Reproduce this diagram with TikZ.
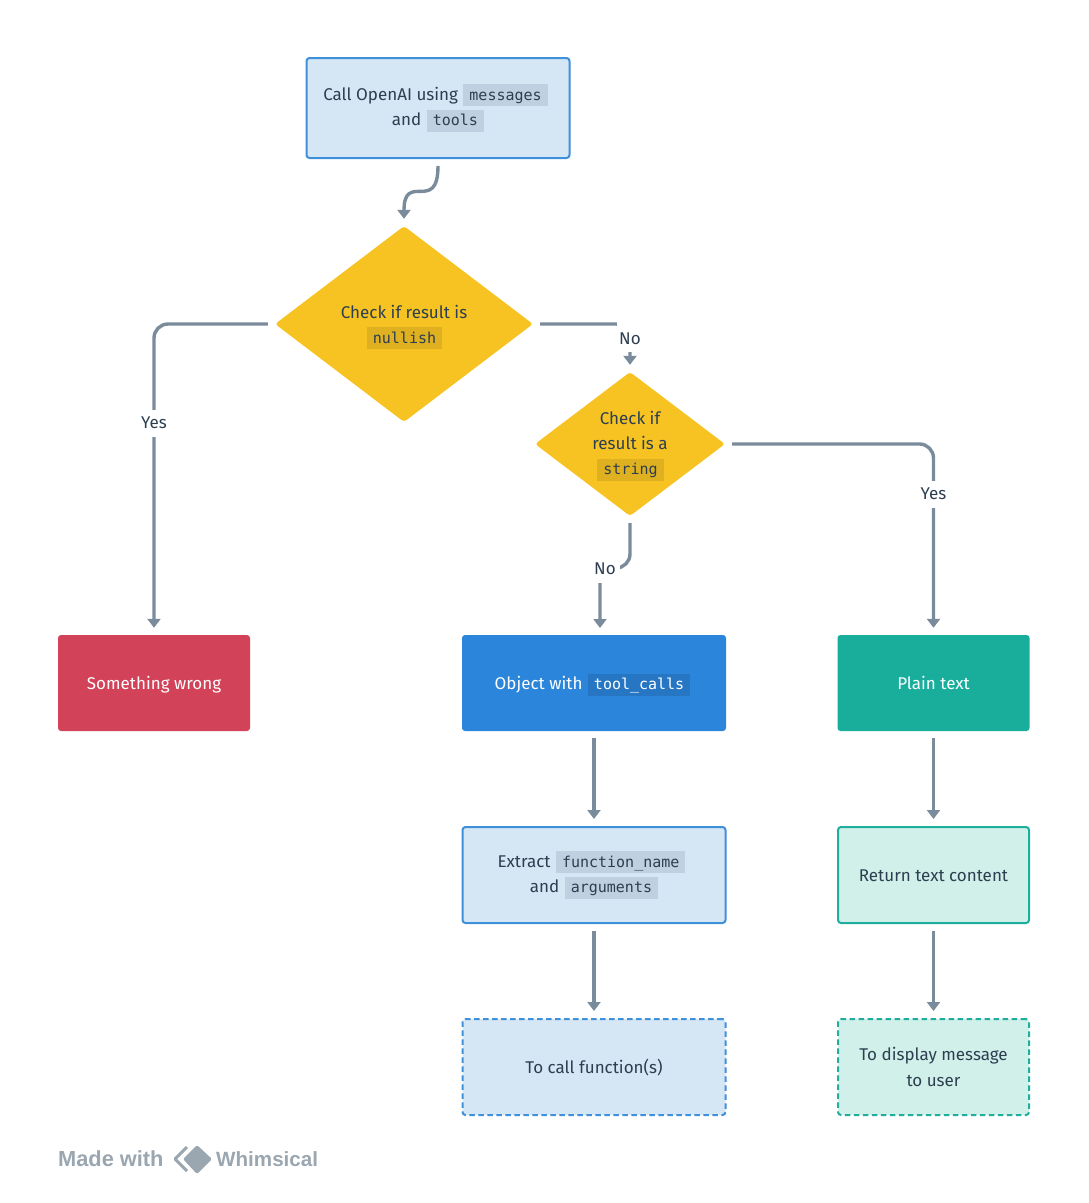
\documentclass[tikz,border=0pt]{standalone}
\usepackage{fontspec}
\setmainfont{Fira Sans}
\newfontfamily\codefont{DejaVu Sans Mono}
\newfontfamily\markfont{Liberation Sans}
\usetikzlibrary{arrows.meta,shapes.geometric}

\definecolor{ink}{HTML}{2C3E50}
\definecolor{linkgrey}{HTML}{7A8B9B}
\definecolor{bluefill}{HTML}{D5E6F5}
\definecolor{blueline}{HTML}{3F90DB}
\definecolor{bluechip}{HTML}{BFD1E0}
\definecolor{tealfill}{HTML}{D1F0EA}
\definecolor{tealline}{HTML}{1FAE9E}
\definecolor{amber}{HTML}{F6C323}
\definecolor{amberchip}{HTML}{DFB020}
\definecolor{redbox}{HTML}{D2435A}
\definecolor{bluebox}{HTML}{2B85DA}
\definecolor{objchip}{HTML}{2676C4}
\definecolor{tealbox}{HTML}{19AE9C}
\definecolor{markgrey}{HTML}{9AA6B0}

\newcommand{\chip}[2]{\setlength{\fboxsep}{0pt}\hspace{1pt}\colorbox{#1}{\raisebox{0pt}[16pt][6pt]{\hspace{6pt}{\codefont\fontsize{15}{15}\selectfont #2}\hspace{6pt}}}}
\newcommand{\toproom}[1]{\rule{0pt}{#1}}

\tikzstyle{link}=[-{Triangle[width=13pt,length=9pt]},line width=3.4pt,linkgrey,shorten >=7pt,shorten <=7pt,rounded corners=14pt]
\tikzstyle{base}=[rectangle,rounded corners=3pt,minimum height=96pt,align=center,font=\fontsize{17}{25.5}\selectfont,text=ink]
\tikzstyle{oneline}=[text height=18pt,text depth=5pt]
\tikzstyle{bluebase}=[base,draw=blueline,fill=bluefill,line width=2pt,minimum width=263pt]
\tikzstyle{tealbase}=[base,draw=tealline,fill=tealfill,line width=2pt,minimum width=191pt]
\tikzstyle{solidbox}=[base,oneline,text=white]
\tikzstyle{ending}=[dash pattern=on 5.5pt off 3.5pt]
\tikzstyle{decide}=[diamond,aspect=1.32,fill=amber,rounded corners=3pt,inner sep=0pt,align=center,font=\fontsize{17}{25}\selectfont,text=ink]
\tikzstyle{answer}=[fill=white,inner sep=0pt,minimum width=30pt,minimum height=27pt,font=\fontsize{17}{20}\selectfont,text=ink]
\tikzstyle{brand}=[font=\markfont\bfseries\fontsize{21.8}{22}\selectfont,text=markgrey,inner sep=0pt]

\begin{document}
\begin{tikzpicture}[x=1pt,y=-1pt]

\useasboundingbox (0,0) rectangle (1088,1203);

% Top box

\node [bluebase,minimum height=100pt] (call) at (438,108)
{Call OpenAI using \chip{bluechip}{messages}\kern5pt\\
and \chip{bluechip}{tools}};

% Decisions

\node [decide,minimum width=258pt,minimum height=196pt] (nullish) at (404,324)
{\toproom{19pt}Check if result is\\
\chip{amberchip}{nullish}};

\node [decide,minimum width=190pt,minimum height=144pt] (isstring) at (630,444)
{\toproom{17pt}Check if\\
result is a\\
\chip{amberchip}{string}};

% Middle row

\node [solidbox,fill=redbox,minimum width=192pt] (wrong) at (154,683)
{Something wrong};

\node [solidbox,fill=bluebox,minimum width=264pt] (object) at (594,683)
{Object with \chip{objchip}{\color{white}tool\_calls}\kern3pt};

\node [solidbox,fill=tealbox,minimum width=192pt] (plain) at (933.5,683)
{Plain text};

% Lower boxes

\node [bluebase] (extract) at (594,875)
{\toproom{15pt}Extract \chip{bluechip}{function\_name}\kern5pt\\
and \chip{bluechip}{arguments}};

\node [tealbase,oneline] (return) at (933.5,875)
{Return text content};

\node [bluebase,ending,oneline] (tocall) at (594,1067)
{To call function(s)};

\node [tealbase,ending] (display) at (933.5,1067)
{To display message\\
to user};

% Bend points

\coordinate (stringbend) at (600,568);
\coordinate (objectin) at (600,635);

% Connectors

\draw [link] (call.south) .. controls +(0,55) and +(0,-55) .. (nullish.north);
\draw [link] (nullish.west) -| (wrong.north);
\draw [link] (nullish.east) -| (isstring.north);
\draw [link] (isstring.east) -| (plain.north);
\draw [link] (isstring.south) |- (stringbend) -- (objectin);
\draw [link] (object.south) -- (extract.north);
\draw [link] (extract.south) -- (tocall.north);
\draw [link] (plain.south) -- (return.north);
\draw [link] (return.south) -- (display.north);

% Labels

\node [answer] (yesleft) at (154,423) {Yes};
\node [answer,minimum width=26pt,minimum height=30pt,text height=16pt] (noright) at (630,337) {No};
\node [answer] (yesright) at (933.5,494) {Yes};
\node [answer] (nodown) at (605,569) {No};

% Watermark

\node [brand,anchor=west] (madewith) at (58,1159) {Made with};
\node [brand,anchor=west,font=\markfont\bfseries\fontsize{20.6}{22}\selectfont] (whimsical) at (216,1159) {Whimsical};

\draw [markgrey,line width=3pt,rounded corners=1pt] (187,1147) -- (175,1159) -- (187,1171);
\fill [markgrey,rounded corners=2pt] (197,1145) -- (212,1159) -- (197,1174) -- (183,1159) -- cycle;

\end{tikzpicture}
\end{document}
